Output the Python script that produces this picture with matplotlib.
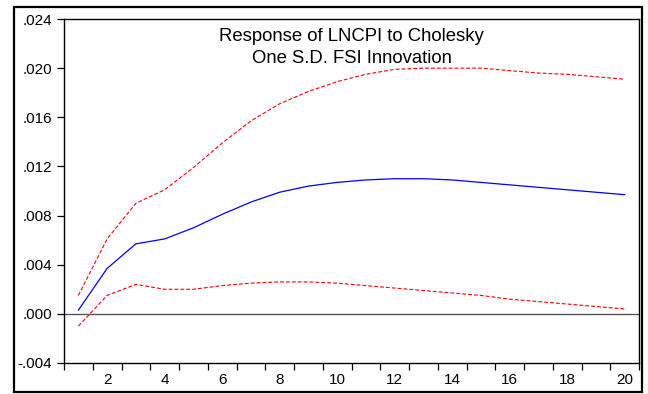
import numpy as np
import matplotlib
matplotlib.use('Agg')
import matplotlib.pyplot as plt
from matplotlib.patches import Rectangle
from matplotlib.ticker import FixedLocator, FuncFormatter

plt.rcParams['font.family'] = ['Liberation Sans', 'DejaVu Sans']

# Impulse response of LNCPI to an FSI shock, 20 periods
periods = np.arange(1, 21)
response = [0.0003, 0.0037, 0.0057, 0.0061, 0.0070, 0.0081, 0.0091, 0.0099, 0.0104, 0.0107,
            0.0109, 0.0110, 0.0110, 0.0109, 0.0107, 0.0105, 0.0103, 0.0101, 0.0099, 0.0097]
upper_band = [0.0015, 0.0061, 0.0090, 0.0101, 0.0119, 0.0139, 0.0157, 0.0171, 0.0181, 0.0189,
              0.0195, 0.0199, 0.0200, 0.0200, 0.0200, 0.0198, 0.0196, 0.0195, 0.0193, 0.0191]
lower_band = [-0.0010, 0.0015, 0.0024, 0.0020, 0.0020, 0.0023, 0.0025, 0.0026, 0.0026, 0.0025,
              0.0023, 0.0021, 0.0019, 0.0017, 0.0015, 0.0012, 0.0010, 0.0008, 0.0006, 0.0004]

y_ticks = [-0.004, 0.000, 0.004, 0.008, 0.012, 0.016, 0.020, 0.024]
x_labels = [2, 4, 6, 8, 10, 12, 14, 16, 18, 20]

fig = plt.figure(figsize=(6.48, 3.94), dpi=100)
fig.patch.set_facecolor('white')

# outer frame around the whole graph
fig.patches.append(Rectangle((14 / 648, 1 - 392 / 394), 628 / 648, 385 / 394,
                             transform=fig.transFigure, fill=False,
                             edgecolor='black', linewidth=1.6))

ax = fig.add_axes([64 / 648, 1 - 363 / 394, 575 / 648, 344 / 394])

ax.axhline(0, color='#555555', linewidth=1.0, zorder=1)
ax.plot(periods, upper_band, color='red', linestyle=(0, (3.5, 1.8)), linewidth=0.8)
ax.plot(periods, lower_band, color='red', linestyle=(0, (3.5, 1.8)), linewidth=0.8)
ax.plot(periods, response, color='blue', linewidth=0.9)

ax.set_xlim(0.5, 20.5)
ax.set_ylim(-0.004, 0.024)

# labels on even periods, tick marks between periods
ax.xaxis.set_major_locator(FixedLocator(x_labels))
ax.xaxis.set_minor_locator(FixedLocator(np.arange(0.5, 21, 1.0)))
ax.tick_params(axis='x', which='major', length=0, pad=7.5, labelsize=11)
ax.tick_params(axis='x', which='minor', length=5, width=0.9, direction='out')

ax.yaxis.set_major_locator(FixedLocator(y_ticks))
ax.yaxis.set_major_formatter(FuncFormatter(lambda v, _: ('%.3f' % v).replace('0.', '.')))
ax.tick_params(axis='y', which='major', length=5, width=0.9, direction='out',
               pad=3.5, labelsize=11)

for side in ax.spines.values():
    side.set_linewidth(1.0)

ax.text(0.5, 0.975, 'Response of LNCPI to Cholesky\nOne S.D. FSI Innovation',
        transform=ax.transAxes, ha='center', va='top', fontsize=13.3,
        linespacing=1.45)

fig.savefig('out.png', dpi=100)
